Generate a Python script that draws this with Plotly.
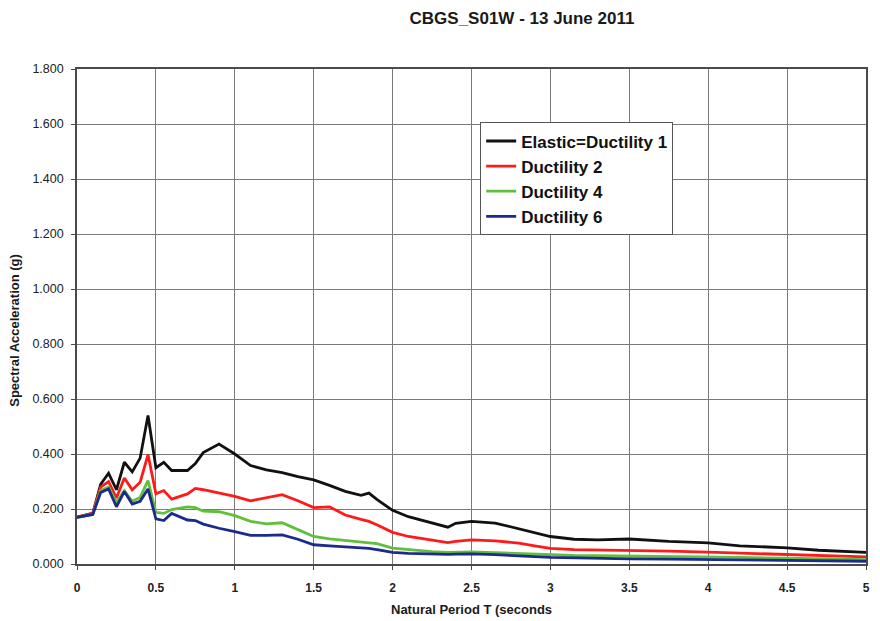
import plotly.graph_objects as go

# Natural period grid (seconds)
period = [0, 0.1, 0.15, 0.2, 0.25, 0.3, 0.35, 0.4, 0.45, 0.5, 0.55, 0.6, 0.7, 0.75,
          0.8, 0.9, 1.0, 1.1, 1.2, 1.3, 1.4, 1.5, 1.6, 1.7, 1.8, 1.85, 1.9, 2.0, 2.1,
          2.25, 2.35, 2.4, 2.5, 2.65, 2.8, 2.9, 3.0, 3.15, 3.3, 3.5, 3.75, 4.0, 4.2,
          4.5, 4.7, 5.0]

# Spectral acceleration (g) for each ductility level
elastic = [0.17, 0.184, 0.29, 0.33, 0.27, 0.37, 0.335, 0.385, 0.54, 0.35, 0.37, 0.34,
           0.34, 0.365, 0.405, 0.436, 0.40, 0.358, 0.342, 0.332, 0.318, 0.306, 0.286,
           0.264, 0.25, 0.258, 0.235, 0.195, 0.172, 0.148, 0.134, 0.148, 0.155, 0.149,
           0.128, 0.112, 0.10, 0.09, 0.088, 0.091, 0.082, 0.077, 0.066, 0.059, 0.05,
           0.042]
ductility2 = [0.17, 0.185, 0.28, 0.30, 0.24, 0.313, 0.27, 0.297, 0.398, 0.255, 0.267,
              0.236, 0.255, 0.275, 0.27, 0.258, 0.246, 0.23, 0.24, 0.252, 0.23, 0.205,
              0.208, 0.178, 0.162, 0.155, 0.143, 0.115, 0.10, 0.086, 0.078, 0.082, 0.088,
              0.084, 0.076, 0.066, 0.057, 0.052, 0.051, 0.05, 0.047, 0.043, 0.04, 0.036,
              0.032, 0.026]
ductility4 = [0.17, 0.18, 0.267, 0.28, 0.224, 0.267, 0.228, 0.242, 0.303, 0.188, 0.184,
              0.198, 0.208, 0.205, 0.192, 0.19, 0.176, 0.155, 0.146, 0.15, 0.125, 0.10,
              0.091, 0.085, 0.08, 0.078, 0.074, 0.058, 0.052, 0.045, 0.042, 0.043, 0.044,
              0.041, 0.038, 0.036, 0.033, 0.031, 0.03, 0.029, 0.028, 0.026, 0.024, 0.021,
              0.019, 0.016]
ductility6 = [0.17, 0.18, 0.26, 0.273, 0.208, 0.264, 0.218, 0.228, 0.273, 0.164, 0.158,
              0.184, 0.16, 0.158, 0.145, 0.13, 0.118, 0.104, 0.104, 0.106, 0.09, 0.07,
              0.066, 0.062, 0.058, 0.057, 0.052, 0.042, 0.039, 0.036, 0.035, 0.036, 0.037,
              0.034, 0.031, 0.027, 0.024, 0.022, 0.02, 0.019, 0.018, 0.016, 0.014, 0.012,
              0.011, 0.01]

series_names = ["Elastic=Ductility 1", "Ductility 2", "Ductility 4", "Ductility 6"]
series_values = [elastic, ductility2, ductility4, ductility6]
series_colors = ["#111111", "#ff1a1a", "#62bf3c", "#1c2a8c"]

x_ticks = [0, 0.5, 1, 1.5, 2, 2.5, 3, 3.5, 4, 4.5, 5]
x_tick_text = ["0", "0.5", "1", "1.5", "2", "2.5", "3", "3.5", "4", "4.5", "5"]

FONT = "Liberation Sans, Arial, sans-serif"

fig = go.Figure()
for i, (name, vals, col) in enumerate(zip(series_names, series_values, series_colors)):
    fig.add_trace(go.Scatter(
        x=period, y=vals, mode="lines", name=name, legendgroup=f"g{i}",
        line=dict(color=col, width=2.8),
    ))

fig.update_layout(
    width=880, height=621,
    margin=dict(l=77, r=10, t=69, b=57),
    paper_bgcolor="white", plot_bgcolor="white",
    font=dict(family=FONT, color="#222222"),
    showlegend=True,
    title=dict(
        text="<b>CBGS_S01W - 13 June 2011</b>",
        x=522 / 880, xanchor="center", xref="container",
        y=1 - 18 / 621, yanchor="middle", yref="container",
        font=dict(size=17, family=FONT, color="#1a1a1a"),
    ),
    legend=dict(
        x=0.511, y=0.892, xanchor="left", yanchor="top",
        bgcolor="white", bordercolor="#555555", borderwidth=1,
        font=dict(size=17, family=FONT, color="#111111", weight="bold"),
        tracegroupgap=0, itemwidth=30,
    ),
    xaxis=dict(
        range=[0, 5], tickvals=x_ticks, ticktext=x_tick_text,
        showgrid=True, gridcolor="#7a7a7a", gridwidth=1.4,
        showline=True, linecolor="#4a4a4a", linewidth=1.6, mirror=True,
        ticks="outside", ticklen=4, tickcolor="#4a4a4a",
        tickfont=dict(size=12, family=FONT, color="#222222", weight="bold"),
        ticklabelstandoff=8, zeroline=False,
    ),
    yaxis=dict(
        range=[0, 1.8], dtick=0.2, tickformat=".3f",
        showgrid=True, gridcolor="#7a7a7a", gridwidth=1.4,
        showline=True, linecolor="#4a4a4a", linewidth=1.6, mirror=True,
        ticks="outside", ticklen=4, tickcolor="#4a4a4a",
        tickfont=dict(size=12.5, family=FONT, color="#222222"),
        ticklabelstandoff=5, zeroline=False,
    ),
    annotations=[
        dict(text="<b>Natural Period T (seconds</b>", xref="paper", yref="paper",
             x=0.5, y=(565 - 611) / 496, xanchor="center", yanchor="middle",
             showarrow=False, font=dict(size=13, family=FONT, color="#1a1a1a")),
        dict(text="<b>Spectral Acceleration (g)</b>", xref="paper", yref="paper",
             x=(14 - 77) / 793, y=(565 - 331) / 496, xanchor="center", yanchor="middle",
             textangle=-90, showarrow=False,
             font=dict(size=13, family=FONT, color="#1a1a1a")),
    ],
)

fig.write_html("out.html")
